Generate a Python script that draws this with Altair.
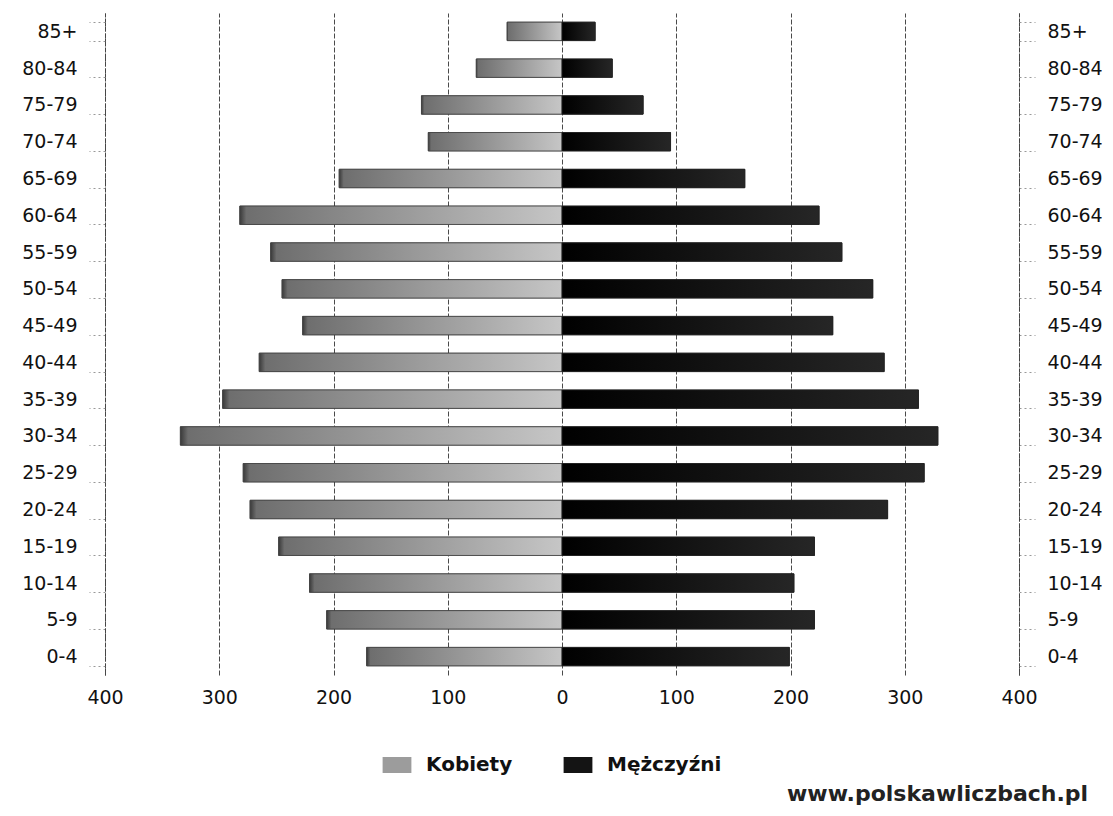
import altair as alt
import pandas as pd

# ---- data (thousands) ----
age_groups = ["0-4", "5-9", "10-14", "15-19", "20-24", "25-29", "30-34", "35-39",
              "40-44", "45-49", "50-54", "55-59", "60-64", "65-69", "70-74",
              "75-79", "80-84", "85+"]
kobiety = [171, 206, 221, 248, 273, 279, 334, 297, 265, 227, 245, 255, 282, 195,
           117, 123, 75, 48]
mezczyzni = [199, 221, 203, 221, 285, 317, 329, 312, 282, 237, 272, 245, 225, 160,
             95, 71, 44, 29]
sexes = ["Kobiety", "Mężczyźni"]
sex_colors = ["#9c9c9c", "#141414"]
x_ticks = [-400, -300, -200, -100, 0, 100, 200, 300, 400]
source_note = ["www.polskawliczbach.pl"]

rows = []
for a, k, m in zip(age_groups, kobiety, mezczyzni):
    rows.append({"age": a, "sex": sexes[0], "value": -k})
    rows.append({"age": a, "sex": sexes[1], "value": m})
df = pd.DataFrame(rows)

FONT = "DejaVu Sans"
y_order = age_groups[::-1]

x_scale = alt.Scale(domain=[-400, 400], nice=False, zero=False)
x_axis = alt.Axis(
    values=x_ticks, labelExpr="format(abs(datum.value), 'd')",
    domain=False, ticks=False, grid=True, gridColor="#4a4a4a", gridDash=[5, 2],
    gridWidth=1, labelFont=FONT, labelFontSize=19, labelColor="#111",
    labelPadding=13, labelFlush=False, labelOverlap=False, title=None,
)
X = alt.X("value:Q", scale=x_scale, axis=x_axis)


def y_scale():
    return alt.Scale(domain=y_order, paddingInner=0.5, paddingOuter=0.25)


def y_axis(orient):
    return alt.Axis(
        orient=orient, title=None, grid=False,
        domain=True, domainColor="#444", domainDash=[3, 2], domainWidth=1,
        ticks=True, tickBand="extent", tickSize=16, tickColor="#999",
        tickDash=[2, 3], labelFont=FONT, labelFontSize=19, labelColor="#111",
        labelPadding=12,
    )


base = alt.Chart(df).mark_bar(stroke="#333", strokeWidth=0.8).encode(
    x=X,
    y=alt.Y("age:N", scale=y_scale(), axis=y_axis("left")),
    color=alt.Color(
        "sex:N",
        scale=alt.Scale(domain=sexes, range=sex_colors),
        legend=alt.Legend(
            orient="none", legendX=282, legendY=742, direction="horizontal",
            title=None, symbolType="M-1.8,-1H1.8V1H-1.8Z", symbolSize=256,
            symbolStrokeWidth=0, symbolOpacity=1,
            labelFont=FONT, labelFontSize=20, labelFontWeight="bold",
            labelColor="#111", labelOffset=19, columnPadding=50,
            padding=0, labelLimit=300,
        ),
    ),
)

grad_f = {"gradient": "linear", "x1": 0, "x2": 1, "y1": 0, "y2": 0,
          "stops": [{"offset": 0, "color": "#3a3a3a"},
                    {"offset": 0.02, "color": "#6e6e6e"},
                    {"offset": 1, "color": "#c6c6c6"}]}
grad_m = {"gradient": "linear", "x1": 0, "x2": 1, "y1": 0, "y2": 0,
          "stops": [{"offset": 0, "color": "#000000"},
                    {"offset": 1, "color": "#262626"}]}

female = alt.Chart(df).transform_filter(alt.datum.sex == sexes[0]).mark_bar(
    color=grad_f, stroke="#444", strokeWidth=0.8
).encode(x=X, y=alt.Y("age:N", scale=y_scale(), axis=None))

male = alt.Chart(df).transform_filter(alt.datum.sex == sexes[1]).mark_bar(
    color=grad_m, stroke="#222", strokeWidth=0.8
).encode(x=X, y=alt.Y("age:N", scale=y_scale(), axis=y_axis("right")))

note = alt.Chart(pd.DataFrame({"t": source_note})).mark_text(
    font=FONT, fontSize=22, fontWeight="bold", color="#222",
    align="left", baseline="alphabetic"
).encode(text="t:N", x=alt.value(682), y=alt.value(788))

chart = alt.layer(base, female, male, note).resolve_scale(
    y="independent"
).properties(
    width=914, height=662,
    autosize=alt.AutoSizeParams(type="none"),
    padding={"left": 97, "top": 5, "right": 86, "bottom": 133},
    background="white",
).configure_view(stroke=None)

chart.save("out.html", embed_options={"renderer": "svg", "actions": False})
